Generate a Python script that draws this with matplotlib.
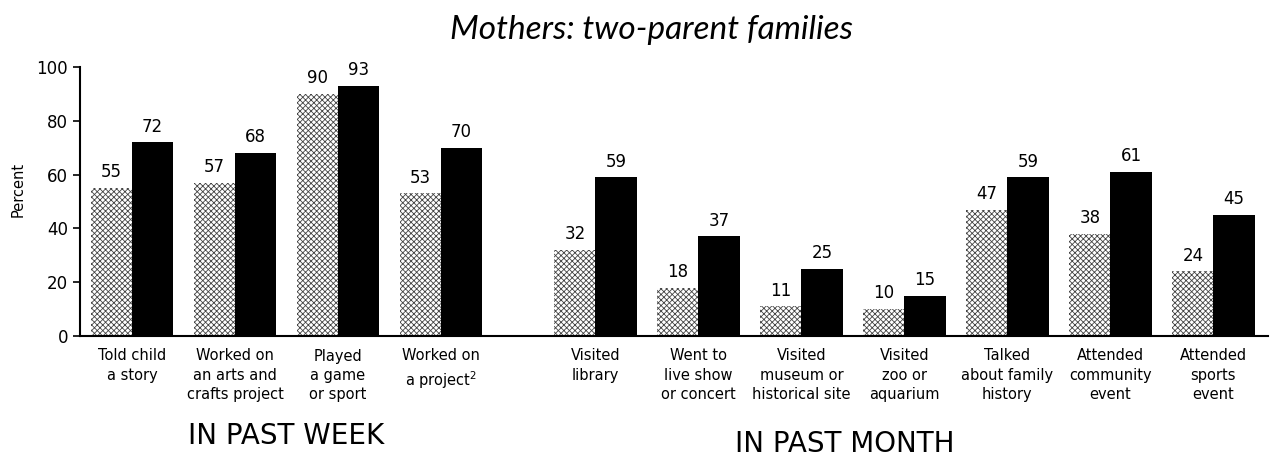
import matplotlib
matplotlib.use("Agg")
import matplotlib.pyplot as plt
import numpy as np

categories = ["Told child\na story", "Worked on\nan arts and\ncrafts project",
              "Played\na game\nor sport", "Worked on\na project$^{2}$",
              "Visited\nlibrary", "Went to\nlive show\nor concert",
              "Visited\nmuseum or\nhistorical site", "Visited\nzoo or\naquarium",
              "Talked\nabout family\nhistory", "Attended\ncommunity\nevent",
              "Attended\nsports\nevent"]
series_gray = [55, 57, 90, 53, 32, 18, 11, 10, 47, 38, 24]
series_black = [72, 68, 93, 70, 59, 37, 25, 15, 59, 61, 45]
positions = [0, 1, 2, 3, 4.5, 5.5, 6.5, 7.5, 8.5, 9.5, 10.5]
yticks = [0, 20, 40, 60, 80, 100]

plt.rcParams['font.family'] = ['DejaVu Sans']
plt.rcParams['hatch.linewidth'] = 0.6
plt.rcParams['hatch.color'] = '#444444'

fig = plt.figure(figsize=(12.71, 4.69), dpi=100)
ax = fig.add_axes([80/1271, 1-336/469, (1268-80)/1271, (336-67)/469])

w = 0.4
x = np.array(positions)
ax.bar(x - w/2, series_gray, width=w, color='white', hatch='xxxxxx',
       edgecolor='#444444', linewidth=0)
ax.bar(x + w/2, series_black, width=w, color='black', linewidth=0)

for xi, g, b in zip(x, series_gray, series_black):
    ax.text(xi - w/2, g + 2.5, str(g), ha='center', va='bottom', fontsize=12)
    ax.text(xi + w/2, b + 2.5, str(b), ha='center', va='bottom', fontsize=12)

ax.set_xlim(-0.505, 11.03)
ax.set_ylim(0, 100)
ax.set_yticks(yticks)
ax.set_yticklabels([str(t) for t in yticks], fontsize=12)
ax.set_xticks(x)
ax.set_xticklabels(categories, fontsize=10.5, va='top', linespacing=1.35)
ax.tick_params(axis='x', length=0, pad=9)
ax.tick_params(axis='y', length=5, width=1.2, direction='out')
for s in ['top', 'right']:
    ax.spines[s].set_visible(False)
ax.spines['left'].set_linewidth(1.5)
ax.spines['bottom'].set_linewidth(1.5)

fig.text(18/1271, 1-189/469, "Percent", rotation=90, ha='center', va='center',
         fontsize=10.5)
fig.text(652/1271, 1-30/469, "Mothers: two-parent families", ha='center', va='center',
         fontsize=24, style='italic', family=['Lato', 'DejaVu Sans'])
fig.text(286/1271, 1-436/469, "IN PAST WEEK", ha='center', va='center', fontsize=20)
fig.text(845/1271, 1-444/469, "IN PAST MONTH", ha='center', va='center', fontsize=20)

fig.savefig("out.png", dpi=100)
